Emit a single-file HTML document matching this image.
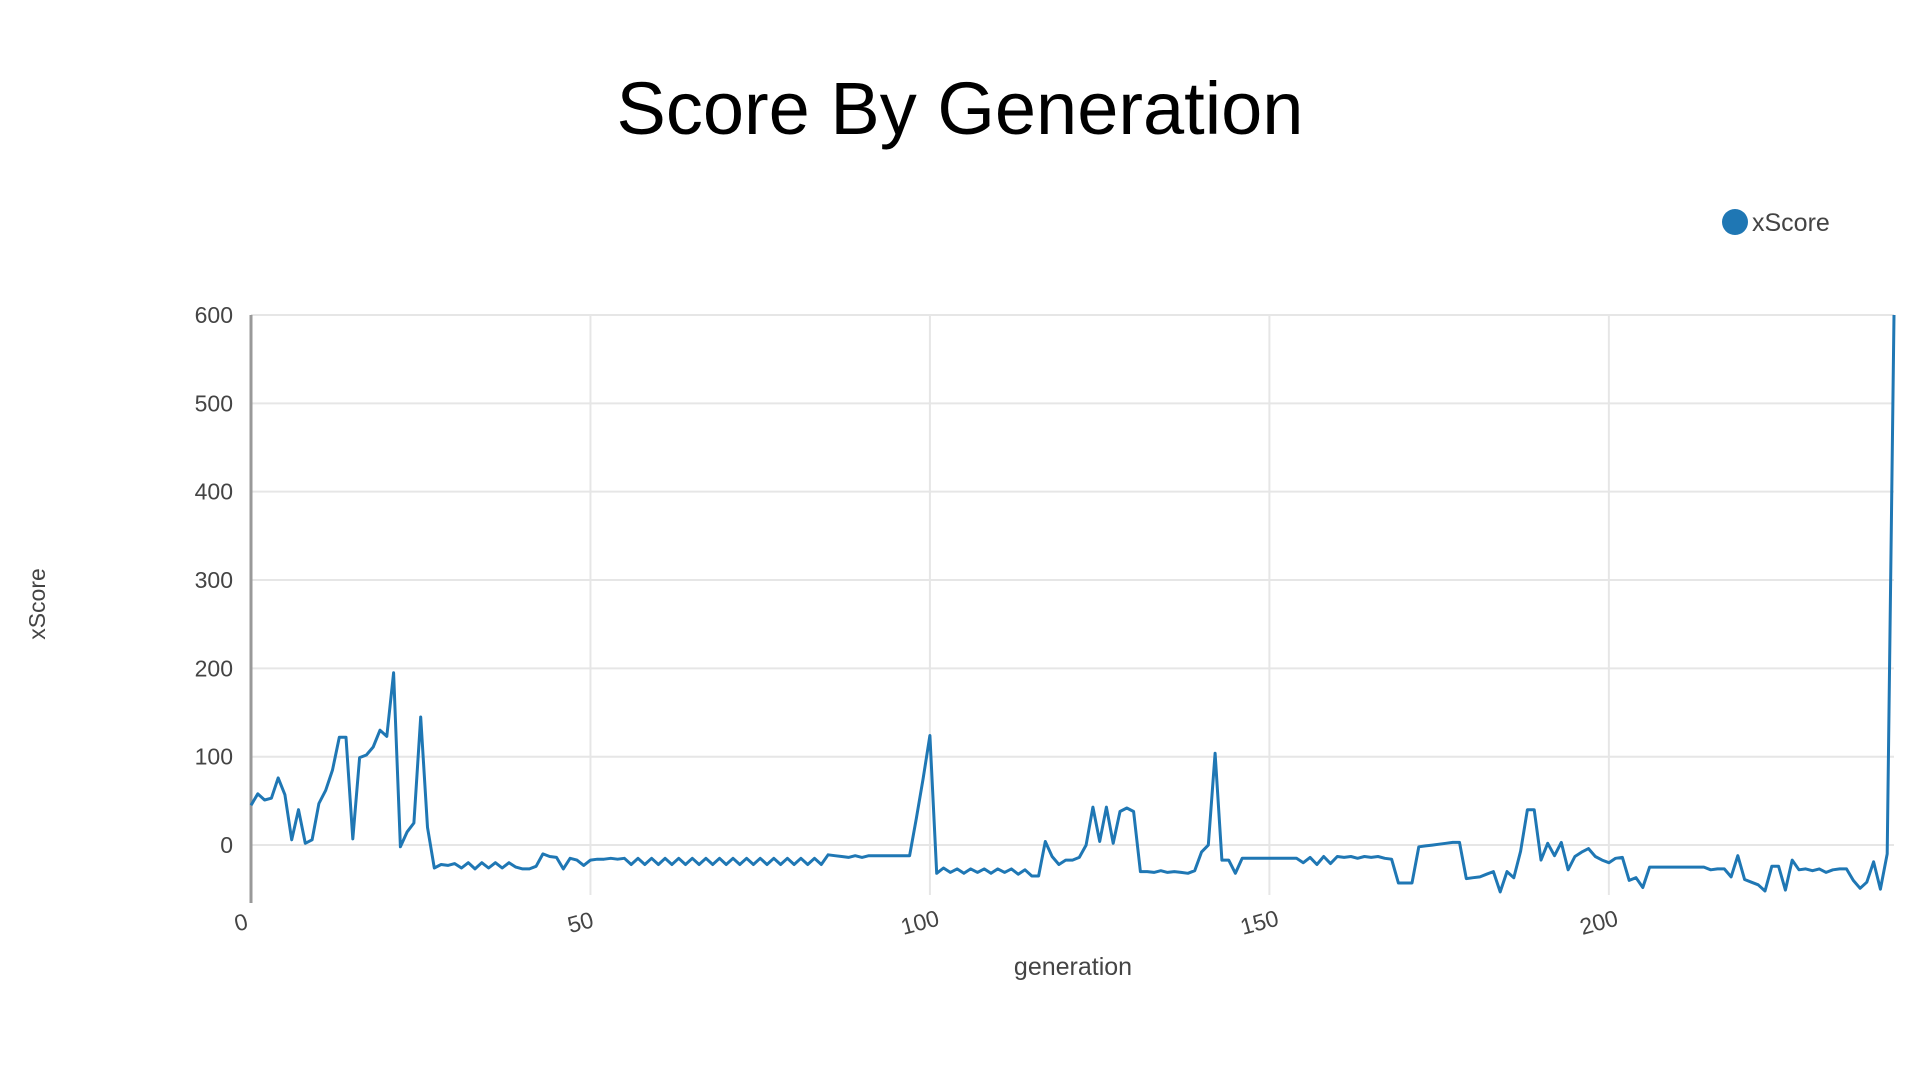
<!DOCTYPE html>
<html><head><meta charset="utf-8"><style>
html,body{margin:0;padding:0;background:#fff;width:1920px;height:1080px;overflow:hidden}
svg{display:block}
text{font-family:"Liberation Sans",sans-serif}
</style></head><body>
<svg id="chart" width="1920" height="1080" xmlns="http://www.w3.org/2000/svg">
<text x="960" y="134" text-anchor="middle" font-size="74" fill="#000">Score By Generation</text>
<g>
<circle cx="1735" cy="222" r="13" fill="#1f77b4"/>
<text x="1752" y="231" font-size="25" fill="#444">xScore</text>
</g>
<text x="1073" y="975" text-anchor="middle" font-size="25" fill="#444">generation</text>
<text transform="translate(45,604) rotate(-90)" text-anchor="middle" font-size="23" fill="#444">xScore</text>
<g id="grid"></g><g id="axes"></g><g id="series"></g>
</svg>
<script>
const scores = [45,58,51,53,76,57,6,40,2,6,47,62,85,122,122,7,99,102,111,130,123,195,-2,15,25,145,20,-26,
-22,-23,-21,-26,-20,-27,-20,-26,-20,-26,-20,-25,-27,-27,-24,
-10,-13,-14,-27,-15,-17,-23,-17,-16,-16,-15,-16,-15,
-22,-15,-22,-15,-22,-15,-22,-15,-22,-15,-22,-15,-22,-15,-22,-15,-22,-15,-22,-15,-22,-15,-22,-15,-22,-15,-22,-15,-22,
-11,-12,-13,-14,-12,-14,-12,-12,-12,-12,-12,-12,-12,
30,75,124,
-32,-26,-31,-27,-32,-27,-31,-27,-32,-27,-31,-27,-33,-28,-35,-35,
4,-13,-22,-17,-17,-14,0,43,4,43,2,38,42,38,
-30,-30,-31,-29,-31,-30,-31,-32,-29,
-8,0,104,-17,-17,-32,-15,
-15,-15,-15,-15,-15,-15,-15,-15,
-20,-14,-22,-13,-21,-13,-14,-13,-15,-13,-14,-13,
-15,-16,-43,-43,-43,-2,-1,0,1,2,3,3,-38,-37,-36,-33,-30,-53,-30,-37,-7,40,40,-17,2,-12,3,-28,-13,-8,-4,-13,-17,-20,-15,-14,-40,-37,-48,-25,
-25,-25,-25,-25,-25,-25,-25,-25,-28,-27,-27,
-36,-12,-39,-42,-45,-52,-24,-24,-51,-17,-28,-27,-29,-27,-31,-28,-27,-27,-40,-49,-42,-19,-50,-10,600];
const generations = scores.map((v,i)=>i);
const xTicks = [0,50,100,150,200];
const yTicks = [0,100,200,300,400,500,600];
const yMin = -52, yMax = 600, xMin = 0, xMax = 242;

const L=251,R=1894,T=315,B=891;
const xs = g => L + (g - xMin)/(xMax - xMin)*(R-L);
const ys = v => B - (v - yMin)/(yMax - yMin)*(B-T);
const NS="http://www.w3.org/2000/svg";
function mk(tag, attrs, parent){const e=document.createElementNS(NS,tag);for(const k in attrs)e.setAttribute(k,attrs[k]);parent.appendChild(e);return e;}
const grid=document.getElementById('grid'), axes=document.getElementById('axes'), series=document.getElementById('series');

yTicks.forEach(t=>{
  const y=ys(t);
  const ln=mk('line',{x1:L,x2:R,y1:y,y2:y,stroke:'#e6e6e6','stroke-width':2},grid);
  
  
  const tx=mk('text',{x:233,y:y+8,'text-anchor':'end','font-size':23,fill:'#444'},axes);
  tx.textContent=t;
  
  
});
xTicks.forEach(t=>{
  const x=xs(t);
  if(t!==0){
    const ln=mk('line',{x1:x,x2:x,y1:T,y2:B+4,stroke:'#e6e6e6','stroke-width':2},grid);
    
    
  }
  const tx=mk('text',{x:0,y:0,'text-anchor':'middle','font-size':23,fill:'#444',transform:`translate(${x-8},${930}) rotate(-15)`},axes);
  tx.textContent=t;
  
  
});
const ax=mk('line',{x1:L,x2:L,y1:T,y2:B,stroke:'#999','stroke-width':3},axes);


const tk=mk('line',{x1:L,x2:L,y1:B,y2:B+12,stroke:'#999','stroke-width':3},axes);



const d=generations.map((g,i)=>(i?'L':'M')+xs(g).toFixed(1)+','+ys(scores[i]).toFixed(1)).join(' ');
const p=mk('path',{d:d,fill:'none',stroke:'#1f77b4','stroke-width':3,'stroke-linejoin':'round'},series);


</script>
</body></html>
